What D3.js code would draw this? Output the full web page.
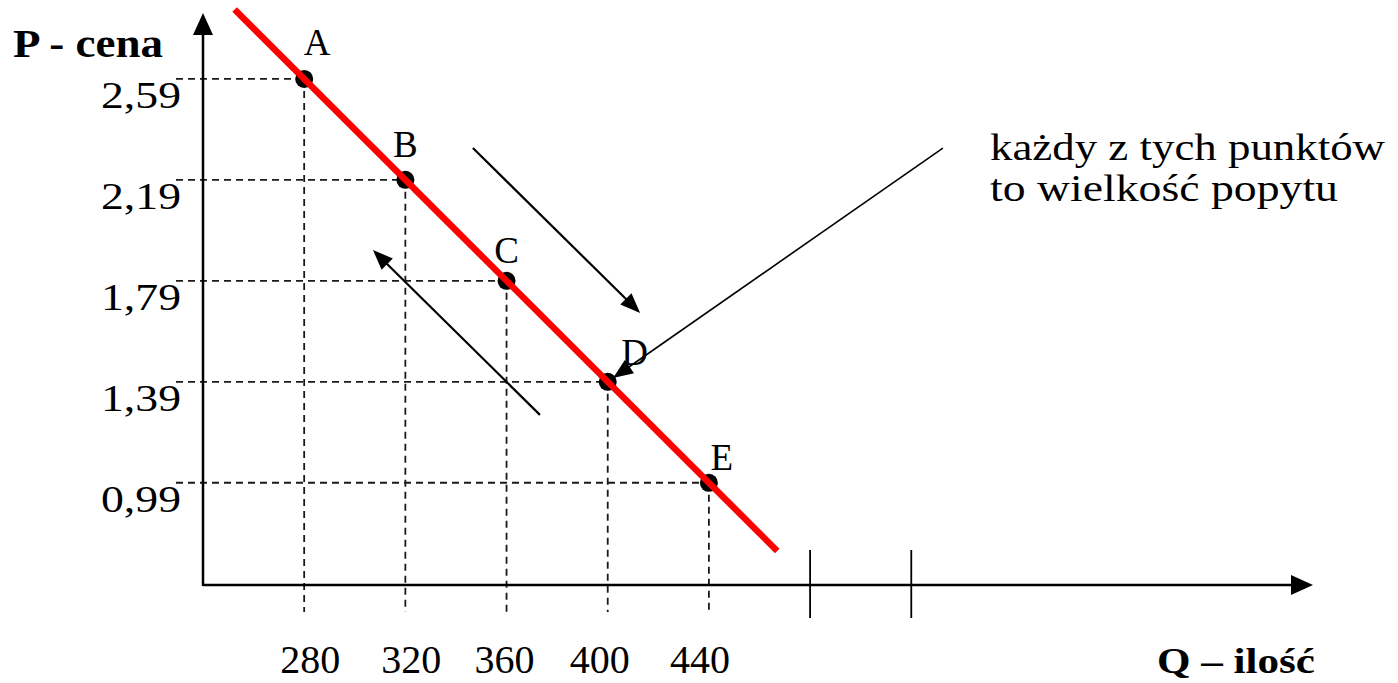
<!DOCTYPE html>
<html>
<head>
<meta charset="utf-8">
<script src="https://cdn.jsdelivr.net/npm/d3@7"></script>
<style>
  html, body { margin: 0; padding: 0; background: #fff; }
  svg { display: block; }
  text { font-family: "Liberation Serif", "Times New Roman", serif; fill: #000; }
</style>
</head>
<body>
<svg id="chart" width="1398" height="683"></svg>
<script>
// ---- data ----
const pointLabels = ["A", "B", "C", "D", "E"];
const quantities = [280, 320, 360, 400, 440];
const prices = [2.59, 2.19, 1.79, 1.39, 0.99];
const xTickLabels = ["280", "320", "360", "400", "440"];
const yTickLabels = ["2,59", "2,19", "1,79", "1,39", "0,99"];
const extraTicks = [480, 520];            // unlabeled ticks on the Q axis
const demandQ = [253.4, 466.1];           // demand line extent (Q)
const demandP = [2.856, 0.729];           // demand line extent (P)
// annotation arrows: [Q, P] of tail and tip
const arrowTail = [[346.7, 2.316], [373.2, 1.259], [532.5, 2.316]];
const arrowTip  = [[412.8, 1.663], [307.2, 1.912], [402.1, 1.405]];
const noteLines = ["każdy z tych punktów", "to wielkość popytu"];
const xAxisTitle = "Q – ilość";
const yAxisTitle = "P - cena";

// ---- layout ----
const labelDx = [13, 0, 0, 27, 13];
const labelDy = [-24, -23, -18, -17, -13];
const xLabelDx = [6, 6, -2, -8, -9];

const svg = d3.select("#chart");
const x = d3.scaleLinear().domain([240, 680]).range([203, 1316]);
const y = d3.scaleLinear().domain([0.585, 2.855]).range([585, 12]);

const x0 = x(240), y0 = y(0.585);
const gridColor = "#1a1a1a";

// dashed guide lines
const g = svg.append("g");
quantities.forEach((q, i) => {
  g.append("line")
    .attr("x1", x0 - 27).attr("x2", x(q))
    .attr("y1", y(prices[i])).attr("y2", y(prices[i]))
    .attr("stroke", gridColor).attr("stroke-width", 1.8).attr("stroke-dasharray", "7,5");
  g.append("line")
    .attr("x1", x(q)).attr("x2", x(q))
    .attr("y1", y(prices[i])).attr("y2", y0 + 27)
    .attr("stroke", gridColor).attr("stroke-width", 1.8).attr("stroke-dasharray", "7,5");
});

// extra ticks
extraTicks.forEach(q => {
  svg.append("line")
    .attr("x1", x(q)).attr("x2", x(q))
    .attr("y1", y0 - 35).attr("y2", y0 + 33)
    .attr("stroke", "#000").attr("stroke-width", 1.8);
});

// axes
svg.append("line").attr("x1", x0).attr("x2", x(680) - 18)
  .attr("y1", y0).attr("y2", y0).attr("stroke", "#000").attr("stroke-width", 2.5);
svg.append("line").attr("x1", x0).attr("x2", x0)
  .attr("y1", y0 + 1).attr("y2", y(2.855) + 18).attr("stroke", "#000").attr("stroke-width", 2.5);
const xt = x(680) - 3;
svg.append("path").attr("d", `M${xt},${y0} L${xt - 22},${y0 - 10} L${xt - 22},${y0 + 10} Z`).attr("fill", "#000");
const yt = y(2.855) + 1;
svg.append("path").attr("d", `M${x0},${yt} L${x0 - 10},${yt + 22} L${x0 + 10},${yt + 22} Z`).attr("fill", "#000");

// annotation arrows
function arrow(t, h, w) {
  const x1 = x(t[0]), y1 = y(t[1]), x2 = x(h[0]), y2 = y(h[1]);
  const ang = Math.atan2(y2 - y1, x2 - x1);
  const L = 20, W = 8;
  const bx = x2 - L * Math.cos(ang), by = y2 - L * Math.sin(ang);
  svg.append("line").attr("x1", x1).attr("y1", y1).attr("x2", bx + 2 * Math.cos(ang)).attr("y2", by + 2 * Math.sin(ang))
    .attr("stroke", "#000").attr("stroke-width", w);
  const px = -Math.sin(ang), py = Math.cos(ang);
  svg.append("path")
    .attr("d", `M${x2},${y2} L${bx + W * px},${by + W * py} L${bx - W * px},${by - W * py} Z`)
    .attr("fill", "#000");
}
arrowTail.forEach((t, i) => arrow(t, arrowTip[i], i === 2 ? 1.6 : 2.2));

// points
svg.append("g").selectAll("circle").data(quantities).join("circle")
  .attr("cx", d => x(d)).attr("cy", (d, i) => y(prices[i])).attr("r", 9).attr("fill", "#000");

// demand line
svg.append("line")
  .attr("x1", x(demandQ[0])).attr("y1", y(demandP[0]))
  .attr("x2", x(demandQ[1])).attr("y2", y(demandP[1]))
  .attr("stroke", "#ff0000").attr("stroke-width", 6.5).attr("stroke-linecap", "square");

// point labels
svg.append("g").selectAll("text").data(pointLabels).join("text")
  .attr("x", (d, i) => x(quantities[i]) + labelDx[i])
  .attr("y", (d, i) => y(prices[i]) + labelDy[i])
  .attr("text-anchor", "middle").attr("font-size", 37).text(d => d);

// y tick labels
svg.append("g").selectAll("text").data(yTickLabels).join("text")
  .attr("x", 181).attr("y", (d, i) => y(prices[i]) + 29)
  .attr("text-anchor", "end").attr("font-size", 37)
  .attr("textLength", 80).attr("lengthAdjust", "spacingAndGlyphs")
  .text(d => d);

// x tick labels
svg.append("g").selectAll("text").data(xTickLabels).join("text")
  .attr("x", (d, i) => x(quantities[i]) + xLabelDx[i])
  .attr("y", 673)
  .attr("text-anchor", "middle").attr("font-size", 40)
  .text(d => d);

// axis titles
svg.append("text").attr("x", 13).attr("y", 57).attr("font-size", 39).attr("font-weight", "bold")
  .attr("textLength", 150).attr("lengthAdjust", "spacingAndGlyphs").text(yAxisTitle);
svg.append("text").attr("x", 1157).attr("y", 673).attr("font-size", 35).attr("font-weight", "bold")
  .attr("textLength", 158).attr("lengthAdjust", "spacingAndGlyphs").text(xAxisTitle);

// note
svg.append("text").attr("x", 990).attr("y", 160).attr("font-size", 37)
  .attr("textLength", 395).attr("lengthAdjust", "spacingAndGlyphs").text(noteLines[0]);
svg.append("text").attr("x", 990).attr("y", 201).attr("font-size", 37)
  .attr("textLength", 348).attr("lengthAdjust", "spacingAndGlyphs").text(noteLines[1]);
</script>
</body>
</html>
